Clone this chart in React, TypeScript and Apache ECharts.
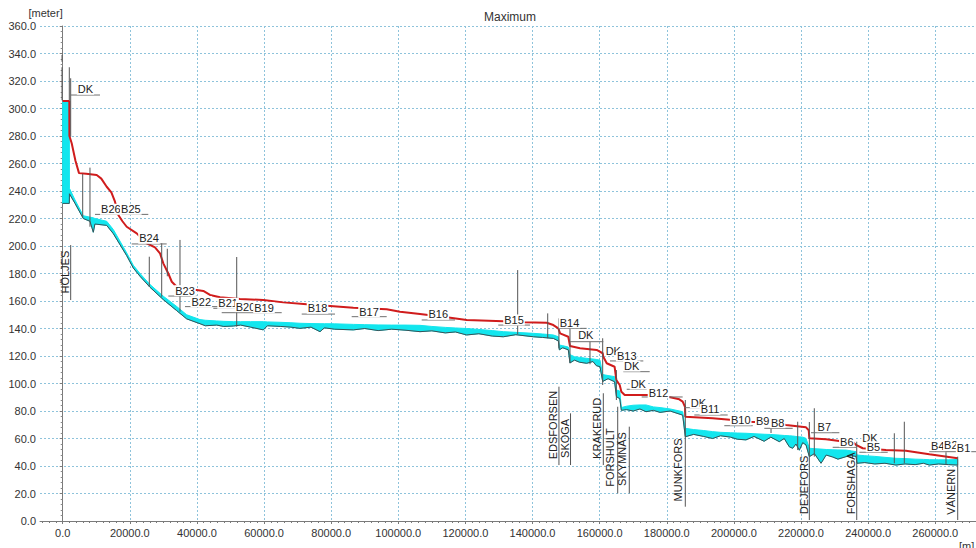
import React, { useEffect, useRef } from 'react';
import * as echarts from 'echarts';

const FONT = 'Arial, "Liberation Sans", sans-serif';

const xTickValues = [0, 20000, 40000, 60000, 80000, 100000, 120000, 140000, 160000, 180000, 200000, 220000, 240000, 260000];
const xMinorTickValues = Array.from({ length: 139 }, (_, i) => -6000 + i * 2000);

// Maximum water level (red)
const maxLevel: [number, number][] = [
  [0, 305.5], [1970, 305.5], [2000, 280], [2680, 274.7], [3800, 262], [4860, 253], [7000, 252.5],
  [10130, 251.6], [11500, 249], [13110, 243.1], [14500, 239], [15580, 232.2], [16570, 222.5],
  [17800, 218], [19070, 214], [22050, 209.2], [25030, 202], [27500, 199], [28990, 194.7],
  [29980, 187.4], [31470, 180], [32500, 174], [34950, 168], [39930, 168], [41900, 167.3],
  [43890, 164.4], [46870, 162.7], [52830, 161.5], [59780, 160.7], [65740, 159], [72700, 157.6],
  [78660, 156.6], [86600, 155.1], [96540, 154], [100510, 152.2], [106470, 150.5], [114420, 148.1],
  [120380, 146.2], [131290, 145.2], [137250, 144.5], [144220, 144.2], [146200, 142.5],
  [147690, 140.1], [148200, 136.5], [150650, 134], [151160, 127.3], [154140, 125.6],
  [159110, 124.4], [160900, 122], [161090, 119.5], [162100, 114.7], [164450, 112.2],
  [164980, 102.5], [165970, 98.9], [166470, 94], [167460, 91.6], [174910, 91.6], [180000, 90.5],
  [183730, 88.5], [184740, 86.8], [185430, 83.1], [185520, 75.9], [193680, 74.7], [199640, 73.5],
  [203600, 72.2], [211560, 71.5], [215530, 69.8], [221490, 68.1], [222300, 66], [222480, 60.1],
  [227450, 59.4], [231420, 58.2], [235400, 57.7], [236390, 55.3], [238380, 52.9], [245320, 51.6],
  [251280, 51.1], [258230, 48.5], [266690, 45.6],
];

// Cyan band: chainage, upper surface, river bed
const bandX = [
  0, 1970, 2000, 3670, 6140, 8130, 9120, 9600, 13110, 15080, 19070, 21040, 23030, 26010, 29980,
  33970, 36950, 40910, 42500, 45890, 48000, 50830, 53000, 56000, 59780, 61000, 65000, 68000, 70700,
  74000, 76670, 78000, 81000, 86600, 90000, 94000, 98000, 102000, 106470, 110000, 114000, 117000,
  120380, 124000, 128000, 131290, 135000, 140230, 143000, 146200, 147690, 147990, 149000, 150650,
  151160, 152500, 154000, 156130, 158000, 159000, 160100, 160900, 162500, 164450, 165000, 166000,
  166470, 168000, 170000, 172000, 173810, 176000, 178000, 181000, 184740, 185520, 188000, 191000,
  193680, 196000, 199000, 201000, 203600, 206000, 209000, 211000, 213530, 215000, 216500, 217520,
  218500, 219500, 220500, 221490, 222480, 224000, 225960, 227500, 229500, 231000, 233400, 235000,
  236390, 236700, 239000, 242000, 245000, 248300, 251000, 254000, 256500, 258230, 261000, 264000,
  266690,
];
const bandTop = [
  305, 305, 242, 233.5, 222, 221, 220.5, 220, 218, 212, 195, 186, 180, 172, 163.5,
  156, 150, 146.5, 146, 145.5, 145.2, 145, 145, 145, 145, 144.8, 144.5, 144.2, 143.8,
  143.6, 143.5, 143.5, 143.4, 143, 142.8, 142.6, 142.5, 142.5, 142.3, 141.5, 140.8, 140.4,
  140, 139.3, 138.5, 137.7, 137.2, 136.5, 136, 135.3, 134, 128, 127.5, 126.5,
  121, 119.5, 119, 118.3, 117.8, 117.5, 117, 106.5, 105.8, 105, 95.3, 94.5,
  82.5, 83.5, 84.2, 84.4, 84.4, 83, 82.5, 81.5, 79.5, 67.4, 66.5, 65.8,
  65, 64.5, 64.2, 64, 63.8, 63.5, 63.1, 62.9, 62.5, 62.2, 62, 61.8,
  61.5, 61.2, 61, 60.1, 52.9, 52.6, 52.3, 52, 51.8, 51.7, 51.6, 51,
  50.4, 48, 47.5, 47, 46.3, 45.6, 45.4, 45, 44.8, 44.6, 44.5, 44.5,
  44.8,
];
const bandBed = [
  231, 231, 238, 231, 220, 218, 210, 216, 215, 209, 193, 184, 178, 170, 161,
  153, 147, 143.5, 142, 142.5, 141.5, 141.8, 142.5, 141, 139, 142, 141.5, 141, 140.1,
  141, 137.7, 140.5, 139.5, 139, 140, 138.5, 139.5, 138.8, 137.7, 138.3, 136.8, 137.5,
  135.3, 136.2, 134.5, 134, 135.5, 134, 133.5, 132.8, 131, 124.5, 126, 124.5,
  115, 117, 115.5, 114.7, 116, 113, 112.2, 101.5, 103.5, 101.3, 90.4, 89,
  80.5, 81, 80, 81.5, 79.5, 80.5, 79, 80, 77, 61.3, 63, 61.5,
  60, 62, 61, 59.5, 59, 61.5, 58, 61, 57.7, 60, 54, 52.9,
  56, 51.5, 57, 55.3, 46.8, 49, 42, 48, 46.5, 45, 46.8, 47.5,
  47, 42, 42.5, 41.5, 42, 40.7, 41.5, 41, 42, 40.7, 41.5, 41,
  40.7,
];

// Structure labels: text, chainage, level
const sectionLabels: [string, number, number][] = [
  ['DK', 6790, 314], ['B26', 14340, 226.7], ['B25', 20300, 226.7], ['B24', 25720, 205.6],
  ['B23', 36440, 167.5], ['B22', 41300, 159.5], ['B21', 49280, 158.3], ['B20', 54470, 155.9],
  ['B19', 59980, 155.1], ['B18', 75930, 154.7], ['B17', 91280, 152.2], ['B16', 111920, 150.3],
  ['B15', 134480, 146.2], ['B14', 151010, 144.2], ['DK', 155870, 135.3], ['DK', 164060, 123.9],
  ['B13', 168060, 120], ['DK', 169550, 112.7], ['DK', 171520, 99.6], ['B12', 177530, 93.3],
  ['DK', 189450, 86], ['B11', 192880, 81.2], ['B10', 202030, 73.5], ['B9', 208580, 72.7],
  ['B8', 213050, 71.5], ['B7', 226940, 68.6], ['B6', 233640, 57.7], ['DK', 240550, 60.1],
  ['B5', 241590, 54], ['B4', 260770, 54.8], ['B2', 264640, 55.2], ['B1', 268430, 53.3],
];

// Horizontal reference segments: from, to, level
const sectionBars: [number, number, number][] = [
  [2380, 11110, 309.8], [9620, 25510, 223], [20560, 30990, 201.5], [31470, 39930, 163.6],
  [36440, 50830, 155.9], [44880, 54830, 154.7], [47380, 65260, 151.5], [71220, 81140, 150.5],
  [86110, 96540, 148.6], [106970, 116900, 146.2], [129790, 139240, 142.5], [147690, 156130, 140.1],
  [151160, 161090, 130.4], [163080, 173010, 116.4], [167040, 174910, 108.6], [168060, 174010, 95.8],
  [172520, 184740, 90.2], [185220, 191180, 82.4], [188200, 198150, 77.1], [197140, 205600, 69.3],
  [209060, 217520, 67.4], [222970, 231420, 64.2], [229440, 236390, 53.6], [237380, 245830, 50],
  [258230, 272140, 50.4],
];

// Vertical structure lines: chainage, bottom level, top level
const structureLines: [number, number, number][] = [
  [-200, 306, 330], [-200, 334, 339], [1970, 306, 330], [2380, 279.5, 322], [5960, 221, 252.5],
  [8130, 214, 257], [25800, 170.4, 192.2], [29500, 163.1, 202], [31170, 178, 198],
  [34950, 152.2, 204.4], [51850, 141.3, 192], [135570, 136, 182.5], [144520, 132.9, 151],
  [147870, 125.6, 147.4], [151160, 114.7, 140.1], [157120, 114, 130.4], [160900, 98.9, 132.9],
  [164980, 88, 109.8], [211060, 64, 71], [219010, 51.6, 72.2], [223960, 46.8, 82],
  [247800, 42, 63.8], [250780, 42, 72.2], [263200, 41, 50],
  // place markers
  [2380, 160.7, 200.7], [147870, 40.7, 97.7], [151320, 40.7, 78.3], [161090, 40.7, 92.9],
  [165380, 20.1, 83.1], [168830, 20.1, 68.6], [185520, 10.4, 88], [222480, 0.7, 72],
  [236600, 0.7, 57.7], [266690, 0.7, 46.8],
];

// Place names (vertical text): name, chainage, centre level
const placeNames: [string, number, number][] = [
  ['HÖLJES', 700, 181], ['EDSFORSEN', 146200, 69.8], ['SKOGA', 149680, 60.1],
  ['KRAKERUD', 159110, 67.4], ['FORSHULT', 163080, 46.2], ['SKYMNÄS', 166570, 45.1],
  ['MUNKFORS', 183210, 37.1], ['DEJEFORS', 220980, 26.2], ['FORSHAGA', 234890, 27.4],
  ['VÄNERN', 264690, 21.3],
];

const CYAN = '#12e6ee';
const GRID = '#8ec3db';

export default function App() {
  const ref = useRef<HTMLDivElement>(null);
  useEffect(() => {
    if (!ref.current) return;
    const chart = echarts.init(ref.current, null, { renderer: 'svg' });
    const fmt = (v: number) => v.toFixed(1);
    const option: any = {
      animation: false,
      backgroundColor: '#ffffff',
      grid: { left: 40, right: 0, top: 26, bottom: 27, containLabel: false },
      graphic: [
        { type: 'text', x: 510, y: 17, style: { text: 'Maximum', fill: '#333', font: `12px ${FONT}`, align: 'center', verticalAlign: 'middle' } },
        { type: 'text', x: 959, y: 540, style: { text: '[m]', fill: '#333', font: `11px ${FONT}`, align: 'left', verticalAlign: 'top' } },
      ],
      xAxis: [
        {
          type: 'value', min: -6764, max: 272140,
          axisLine: { show: true, lineStyle: { color: '#7a7a7a' } },
          axisTick: { show: true, customValues: xTickValues, length: 3, lineStyle: { color: '#7a7a7a' } },
          axisLabel: { customValues: xTickValues, formatter: fmt, color: '#333', fontSize: 11, fontFamily: FONT, margin: 6 },
          splitLine: { show: true, lineStyle: { color: GRID, type: [2, 2], width: 1 } },
        },
        {
          type: 'value', min: -6764, max: 272140, position: 'bottom',
          axisLine: { show: false },
          axisTick: { show: true, customValues: xMinorTickValues, length: 2, lineStyle: { color: '#7a7a7a' } },
          axisLabel: { show: false },
          splitLine: { show: false },
        },
      ],
      yAxis: {
        type: 'value', min: 0, max: 360, interval: 20,
        name: '[meter]', nameLocation: 'end', nameGap: 8,
        nameTextStyle: { align: 'right', color: '#333', fontSize: 11, fontFamily: FONT },
        axisLine: { show: true, lineStyle: { color: '#7a7a7a' } },
        axisTick: { show: true, length: 3, lineStyle: { color: '#7a7a7a' } },
        minorTick: { show: true, splitNumber: 5, length: 2, lineStyle: { color: '#8a8a8a' } },
        axisLabel: { formatter: fmt, color: '#333', fontSize: 11, fontFamily: FONT, margin: 4 },
        splitLine: { show: true, lineStyle: { color: GRID, type: [2, 2], width: 1 } },
      },
      series: [
        {
          // cyan band between water surface and bed, drawn through the axis scales
          type: 'custom', z: 2, silent: true,
          data: [[bandX[0], bandTop[0]]],
          renderItem: (_p: any, api: any) => {
            const pts: number[][] = [];
            for (let i = 0; i < bandX.length; i++) pts.push(api.coord([bandX[i], bandTop[i]]));
            for (let i = bandX.length - 1; i >= 0; i--) pts.push(api.coord([bandX[i], bandBed[i]]));
            return { type: 'polygon', shape: { points: pts }, style: { fill: CYAN, stroke: CYAN, lineWidth: 1 } };
          },
        },
        {
          type: 'line', symbol: 'none', silent: true, z: 3,
          data: bandX.map((x, i) => [x, bandBed[i]]),
          lineStyle: { width: 1, color: '#3b5156' },
        },
        {
          type: 'line', symbol: 'none', silent: true, z: 4,
          data: maxLevel,
          lineStyle: { width: 2, color: '#d01c1c' },
        },
        {
          type: 'custom', z: 5, silent: true,
          data: structureLines.map((s) => [s[0], s[1], s[2]]),
          renderItem: (_p: any, api: any) => {
            const a = api.coord([api.value(0), api.value(1)]);
            const b = api.coord([api.value(0), api.value(2)]);
            return { type: 'line', shape: { x1: a[0], y1: a[1], x2: b[0], y2: b[1] }, style: { stroke: '#555', lineWidth: 1 } };
          },
        },
        {
          type: 'custom', z: 5, silent: true,
          data: sectionBars.map((s) => [s[0], s[2], s[1]]),
          renderItem: (_p: any, api: any) => {
            const a = api.coord([api.value(0), api.value(1)]);
            const b = api.coord([api.value(2), api.value(1)]);
            return { type: 'line', shape: { x1: a[0], y1: a[1], x2: b[0], y2: b[1] }, style: { stroke: '#6e6e6e', lineWidth: 1 } };
          },
        },
        {
          type: 'custom', z: 6, silent: true,
          data: sectionLabels.map((s) => [s[1], s[2]]),
          renderItem: (p: any, api: any) => {
            const c = api.coord([api.value(0), api.value(1)]);
            return {
              type: 'text', x: c[0], y: c[1],
              style: {
                text: sectionLabels[p.dataIndex][0], fill: '#222', font: `11px ${FONT}`,
                align: 'center', verticalAlign: 'middle', backgroundColor: '#ffffff', padding: [0, 1, 0, 1],
              },
            };
          },
        },
        {
          type: 'custom', z: 6, silent: true,
          data: placeNames.map((s) => [s[1], s[2]]),
          renderItem: (p: any, api: any) => {
            const c = api.coord([api.value(0), api.value(1)]);
            return {
              type: 'text', x: c[0], y: c[1], rotation: Math.PI / 2,
              style: {
                text: placeNames[p.dataIndex][0], fill: '#222', font: `11px ${FONT}`,
                align: 'center', verticalAlign: 'middle',
              },
            };
          },
        },
      ],
    };
    chart.setOption(option);
    return () => chart.dispose();
  }, []);
  return <div ref={ref} style={{ position: 'fixed', left: 0, top: 0, width: 976, height: 548 }} />;
}
